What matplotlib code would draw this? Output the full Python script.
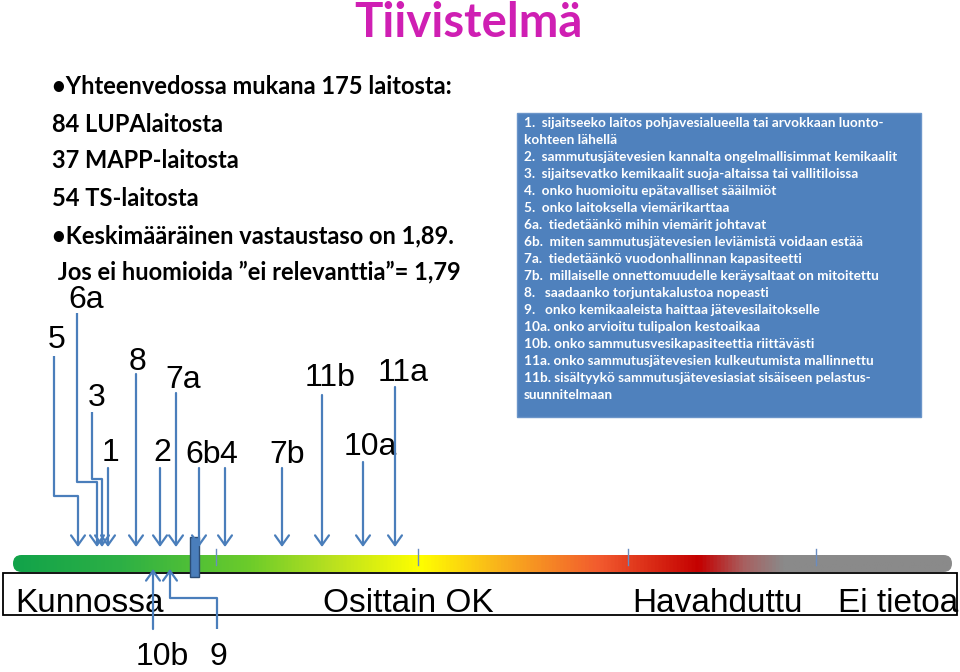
import numpy as np
import matplotlib
matplotlib.use('Agg')
import matplotlib.pyplot as plt
from matplotlib.colors import LinearSegmentedColormap
from matplotlib.patches import Rectangle, FancyBboxPatch

# Data: mean answer level per question (1 = kunnossa ... 5 = ei tietoa)
question_ids = ['1', '2', '3', '4', '5', '6a', '6b', '7a', '7b', '8',
                '9', '10a', '10b', '11a', '11b']
scores = [1.46, 1.72, 1.43, 2.045, 1.31, 1.405, 1.915, 1.80, 2.33, 1.60,
          1.77, 2.735, 1.685, 2.895, 2.53]
mean_score = 1.89
tick_scores = [2.0, 3.01, 4.06, 5.0]
scale_labels = ['Kunnossa', 'Osittain OK', 'Havahduttu', 'Ei tietoa']

title = 'Tiivistelmä'
summary_lines = ['•Yhteenvedossa mukana 175 laitosta:',
                 '84 LUPAlaitosta',
                 '37 MAPP-laitosta',
                 '54 TS-laitosta',
                 '•Keskimääräinen vastaustaso on 1,89.',
                 ' Jos ei huomioida ”ei relevanttia”= 1,79']
question_texts = ['1.  sijaitseeko laitos pohjavesialueella tai arvokkaan luonto-',
                  'kohteen lähellä',
                  '2.  sammutusjätevesien kannalta ongelmallisimmat kemikaalit',
                  '3.  sijaitsevatko kemikaalit suoja-altaissa tai vallitiloissa',
                  '4.  onko huomioitu epätavalliset sääilmiöt',
                  '5.  onko laitoksella viemärikarttaa',
                  '6a.  tiedetäänkö mihin viemärit johtavat',
                  '6b.  miten sammutusjätevesien leviämistä voidaan estää',
                  '7a.  tiedetäänkö vuodonhallinnan kapasiteetti',
                  '7b.  millaiselle onnettomuudelle keräysaltaat on mitoitettu',
                  '8.   saadaanko torjuntakalustoa nopeasti',
                  '9.   onko kemikaaleista haittaa jätevesilaitokselle',
                  '10a. onko arvioitu tulipalon kestoaikaa',
                  '10b. onko sammutusvesikapasiteettia riittävästi',
                  '11a. onko sammutusjätevesien kulkeutumista mallinnettu',
                  '11b. sisältyykö sammutusjätevesiasiat sisäiseen pelastus-',
                  'suunnitelmaan']

# Layout (pixels): label x, label y, line start y, optional bend (x, y)
label_layout = {
    '1': (111, 453, 468, None),
    '2': (162, 453, 468, None),
    '3': (97, 398, 412, (92, 479)),
    '4': (228, 455, 468, None),
    '5': (57, 340, 356, (54, 496)),
    '6a': (86, 300, 313, (77, 482)),
    '6b': (203, 455, 468, None),
    '7a': (183, 380, 393, None),
    '7b': (287, 455, 468, None),
    '8': (138, 362, 374, None),
    '9': (218, 657, 629, (217, 598)),
    '10a': (370, 447, 462, None),
    '10b': (162, 657, 629, None),
    '11a': (403, 373, 387, None),
    '11b': (330, 378, 395, None),
}
below = ['9', '10b']

W, H = 960, 672
PX_PER_UNIT = 200.0
V_LEFT = 1 - 16 / PX_PER_UNIT


def px2v(x):
    return V_LEFT + x / PX_PER_UNIT


blue = '#4a7ebb'
fig = plt.figure(figsize=(9.6, 6.72), dpi=100)
bg = fig.add_axes([0, 0, 1, 1])
bg.set_xlim(0, W)
bg.set_ylim(H, 0)
bg.axis('off')
ax = fig.add_axes([0, 0, 1, 1])
ax.set_xlim(V_LEFT, V_LEFT + W / PX_PER_UNIT)
ax.set_ylim(H, 0)
ax.axis('off')
ax.patch.set_alpha(0)

# title and summary text
bg.text(468, 37, title, ha='center', va='baseline', fontsize=34,
        fontweight='bold', family='Lato', color='#cf1fb3')
for i, (line, y) in enumerate(zip(summary_lines, [86, 125, 161, 198, 236, 272])):
    bg.text(52, y, line, ha='left', va='center', fontsize=17,
            fontweight='bold', family='Lato', color='black')

# question list box
bg.add_patch(Rectangle((517, 113), 404, 304, facecolor='#4f81bd',
                       edgecolor='#6b95c9', lw=1, zorder=1))
for i, line in enumerate(question_texts):
    bg.text(524, 123 + i * 17.0, line, ha='left', va='center', fontsize=9.8,
            fontweight='bold', family='Lato', color='white', zorder=2)

# gradient bar
stops = [(13, '#12a34a'), (120, '#2db045'), (250, '#6dcc2a'), (330, '#b8e020'),
         (420, '#ffff00'), (500, '#f9b21c'), (600, '#f25a2e'), (700, '#c40000'),
         (745, '#a86060'), (785, '#8a8a8a'), (952, '#8a8a8a')]
cmap = LinearSegmentedColormap.from_list(
    'scale', [((x - 13) / 939, c) for x, c in stops])
grad = np.linspace(0, 1, 512).reshape(1, -1)
im = bg.imshow(grad, cmap=cmap, aspect='auto', extent=[13, 952, 572, 555],
               zorder=2)
bar_clip = FancyBboxPatch((13, 555), 939, 17, boxstyle='round,pad=0,rounding_size=8.5',
                          facecolor='none', edgecolor='none', transform=bg.transData)
bg.add_patch(bar_clip)
im.set_clip_path(bar_clip)

# category box
bg.add_patch(Rectangle((3, 573), 954, 42, facecolor='white', edgecolor='black',
                       lw=1.3, zorder=3))
for lab, x in zip(scale_labels, [15, 323, 632, 838]):
    bg.text(x, 612, lab, ha='left', va='baseline', fontsize=24,
            family='Liberation Sans', color='black', zorder=4)

# ticks and mean marker
for t in tick_scores:
    ax.plot([t, t], [549, 565], color='#6a8cc0', lw=1, zorder=5)
ax.add_patch(Rectangle((mean_score - 0.0225, 537), 0.045, 40, facecolor=blue,
                       edgecolor='#2c4d75', lw=1, zorder=6))

# arrows
head = dict(arrowstyle='->,head_length=0.35,head_width=0.25', color=blue,
            lw=1.6, shrinkA=0, shrinkB=0, mutation_scale=20)
for qid, s in zip(question_ids, scores):
    lx, ly, top, bend = label_layout[qid]
    bg.text(lx, ly, qid, ha='center', va='center', fontsize=23,
            family='Liberation Sans', color='black', zorder=4)
    tip = 569 if qid in below else 547
    if bend is None:
        start = top
    else:
        bx, by = bend
        ax.plot([px2v(bx), px2v(bx), s], [top, by, by], color=blue, lw=1.6,
                solid_capstyle='butt', zorder=7)
        start = by
    ax.annotate('', xy=(s, tip), xytext=(s, start), arrowprops=head, zorder=7)

fig.savefig('out.png', dpi=100)
